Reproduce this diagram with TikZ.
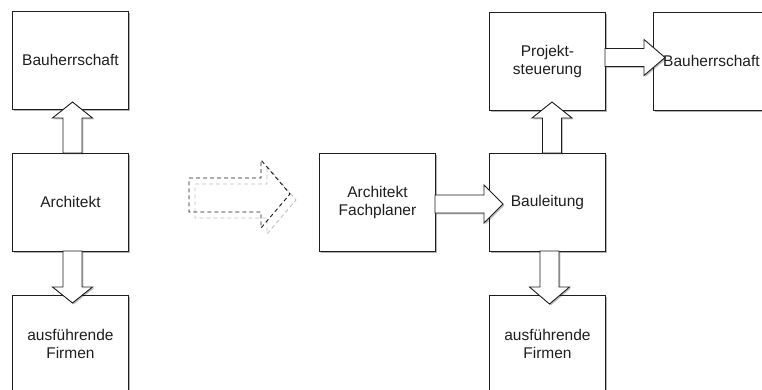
\documentclass[tikz,border=0pt]{standalone}
\usepackage{fontspec}
\setmainfont{Liberation Sans}
\usetikzlibrary{shadows,calc}
\definecolor{ink}{HTML}{1E1E1E}
\tikzset{
  box/.style={draw=ink, line width=0.9pt, fill=white, minimum width=116pt, minimum height=98pt,
    inner sep=0pt, anchor=north west, align=center, text=ink,
    font=\fontsize{15.5}{18}\selectfont,
    drop shadow={shadow xshift=1.6pt, shadow yshift=-1.6pt, opacity=0.3, fill=black}},
  blockarr/.style={draw=ink, line width=0.9pt, fill=white, line join=miter,
    drop shadow={shadow xshift=1.4pt, shadow yshift=-1.4pt, opacity=0.25, fill=black}},
  ghostarr/.style={draw=black!25, line width=0.9pt, dash pattern=on 4pt off 3pt},
  dasharr/.style={draw=black!90, line width=0.9pt, dash pattern=on 4pt off 3pt},
}
% vertical block arrow: #1 x centre, #2 y start, #3 y head base, #4 y tip
\newcommand\vblockarrow[4]{%
  \path[blockarr] (#1-9.5,#2) -- (#1-9.5,#3) -- (#1-20,#3) -- (#1,#4) -- (#1+20,#3)
    -- (#1+9.5,#3) -- (#1+9.5,#2) -- cycle;}
% horizontal block arrow: #1 y centre, #2 x start, #3 x head base, #4 x tip, #5 shaft half, #6 head half
\newcommand\hblockarrow[6]{%
  \path[blockarr] (#2,#1-#5) -- (#3,#1-#5) -- (#3,#1-#6) -- (#4,#1) -- (#3,#1+#6)
    -- (#3,#1+#5) -- (#2,#1+#5) -- cycle;}
\begin{document}
\begin{tikzpicture}[x=1pt,y=-1pt]
\useasboundingbox (0,0) rectangle (762,389);
\begin{scope}
\clip (0,0) rectangle (762,389);
% left column
\node[box] (bh1) at (12,11) {Bauherrschaft};
\node[box] (ar1) at (12,153) {Architekt};
\node[box] (fi1) at (12,295) {ausführende\\Firmen};
% right part
\node[box] (af) at (319,153) {Architekt\\Fachplaner};
\node[box] (ps) at (489,12) {Projekt-\\steuerung};
\node[box] (bl) at (489,153) {Bauleitung};
\node[box] (fi2) at (489,295) {ausführende\\Firmen};
\node[box] (bh2) at (653,12) {Bauherrschaft};

% block arrows
\vblockarrow{72.5}{153}{118}{102}
\vblockarrow{72.5}{251}{287}{303}
\hblockarrow{204}{435}{484}{503}{9}{19}
\vblockarrow{552}{153}{118}{102}
\vblockarrow{549.5}{251}{287}{304}
\hblockarrow{57.5}{605}{644}{665}{9}{18}

% dashed transition arrow
\path[ghostarr] (195,184) -- (267,184) -- (267,166) -- (296,200) -- (267,234)
   -- (267,218) -- (195,218) -- cycle;
\path[dasharr] (189,178) -- (261,178) -- (261,160) -- (290,194) -- (261,228)
   -- (261,212) -- (189,212) -- cycle;
\end{scope}
\end{tikzpicture}
\end{document}
